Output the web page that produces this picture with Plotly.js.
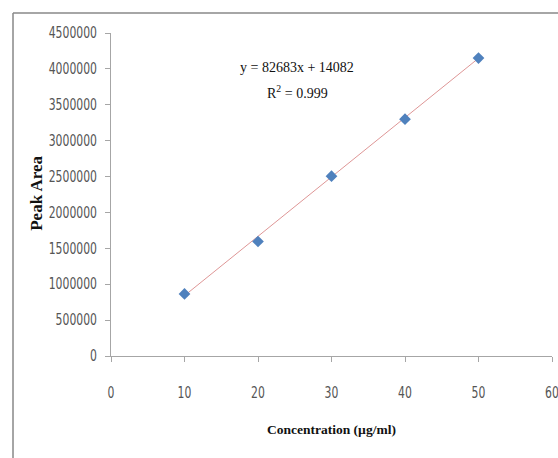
<!DOCTYPE html>
<html>
<head>
<meta charset="utf-8">
<script src="https://cdn.plot.ly/plotly-3.0.1.min.js"></script>
<style>html,body{margin:0;padding:0;background:#fff;}#chart{width:558px;height:458px;}</style>
</head>
<body>
<div id="chart"></div>
<script>
// Data
const concentration = [10, 20, 30, 40, 50];
const peakArea = [865000, 1595000, 2505000, 3300000, 4150000];
// Trend line (from the printed equation)
const slope = 82683;
const intercept = 14082;
const trendX = [10, 50];
const trendY = trendX.map(x => slope * x + intercept);
const xTicks = [0, 10, 20, 30, 40, 50, 60];
const yTicks = [0, 500000, 1000000, 1500000, 2000000, 2500000, 3000000, 3500000, 4000000, 4500000];
const eqText = "y = 82683x + 14082";
const r2Text = "R<sup>2</sup> = 0.999";
const xTitle = "Concentration (µg/ml)";
const yTitle = "Peak Area";

const serif = '"Liberation Serif", "Times New Roman", serif';
const tickFont = {family: '"DejaVu Sans", sans-serif', size: 15, color: '#555'};

const traces = [
  {
    x: trendX, y: trendY, type: 'scatter', mode: 'lines',
    line: {color: 'rgb(222,150,150)', width: 1}, hoverinfo: 'skip', showlegend: false
  },
  {
    x: concentration, y: peakArea, type: 'scatter', mode: 'markers',
    marker: {symbol: 'diamond', size: 9, color: '#4F81BD'}, showlegend: false
  }
];

const axisCommon = {
  showgrid: false, zeroline: false, showline: true, linecolor: '#a6a6a6', linewidth: 1,
  ticks: 'outside', ticklen: 5, tickcolor: '#a6a6a6', tickfont: tickFont,
  ticklabeloverflow: 'allow'
};

const layout = {
  width: 558, height: 458,
  margin: {l: 111, r: 6, t: 33, b: 102},
  paper_bgcolor: '#fff', plot_bgcolor: '#fff',
  xaxis: Object.assign({}, axisCommon, {
    range: [0, 60], tickvals: xTicks, ticktext: xTicks.map(String),
    ticklabelstandoff: 18
  }),
  yaxis: Object.assign({}, axisCommon, {
    range: [0, 4500000], tickvals: yTicks, ticktext: yTicks.map(String),
    ticklabelstandoff: 5
  }),
  annotations: [
    {xref: 'paper', yref: 'paper', x: 0.4218, y: 0.892, yanchor: 'middle', text: eqText, showarrow: false,
     font: {family: serif, size: 14, color: '#111'}},
    {xref: 'paper', yref: 'paper', x: 0.4218, y: 0.817, yanchor: 'middle', text: r2Text, showarrow: false,
     font: {family: serif, size: 14, color: '#111'}},
    {xref: 'paper', yref: 'paper', x: 0.4994, y: -0.229, yanchor: 'middle', text: '<b>' + xTitle + '</b>', showarrow: false,
     font: {family: serif, size: 13.5, color: '#111'}},
    {xref: 'paper', yref: 'paper', x: -0.168, y: 0.505, xanchor: 'center', yanchor: 'middle', textangle: -90,
     text: '<b>' + yTitle + '</b>', showarrow: false,
     font: {family: serif, size: 17, color: '#111'}}
  ],
  shapes: [
    {type: 'line', xref: 'paper', yref: 'paper', x0: -0.2222, x1: -0.2222, y0: 1.0619, y1: -0.33, line: {color: '#888', width: 1.5}},
    {type: 'line', xref: 'paper', yref: 'paper', x0: -0.2222, x1: 1.02, y0: 1.0619, y1: 1.0619, line: {color: '#888', width: 1.5}}
  ]
};

Plotly.newPlot('chart', traces, layout, {displayModeBar: false, staticPlot: true}).then(function (gd) {
  // narrow the tick labels to mimic the condensed face of the original
  gd.querySelectorAll('.xtick text, .ytick text').forEach(function (t) {
    const n = (t.textContent || '').length;
    if (n > 0) {
      t.setAttribute('lengthAdjust', 'spacingAndGlyphs');
      t.setAttribute('textLength', String(n * 6.9));
    }
  });
});
</script>
</body>
</html>
